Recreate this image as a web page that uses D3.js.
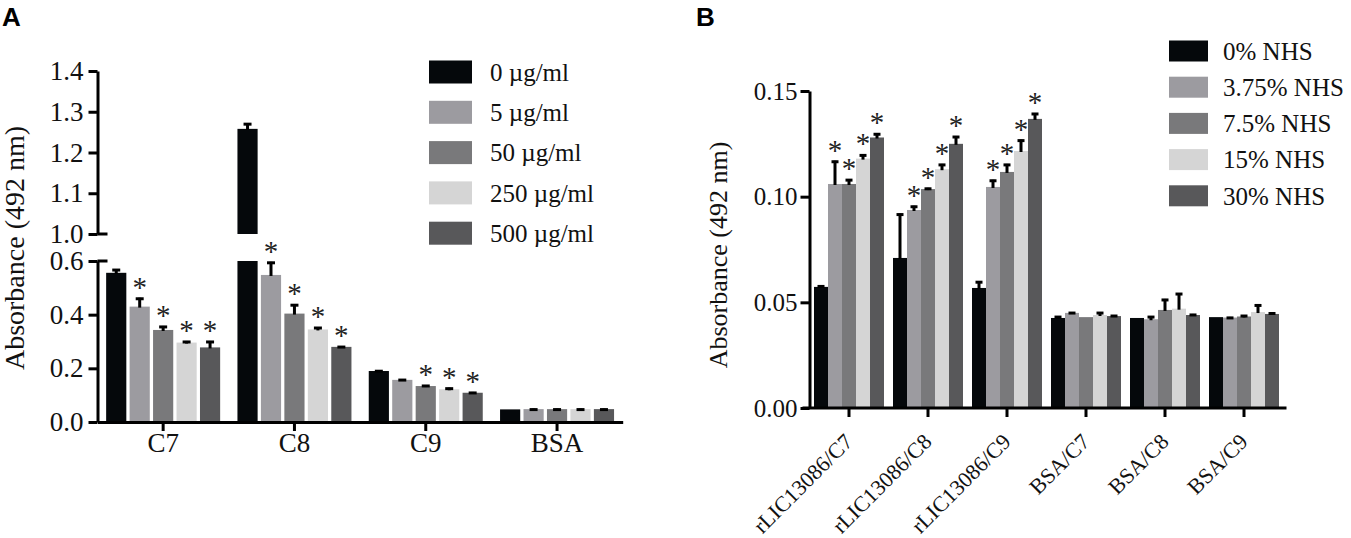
<!DOCTYPE html>
<html><head><meta charset="utf-8">
<script src="https://cdn.jsdelivr.net/npm/d3@7"></script>
<style>body{margin:0;background:#fff} svg{display:block}</style>
</head><body>
<svg id="chart" width="1351" height="538"></svg>
<script>
// ---------- Panel A data ----------
const categoriesA = ["C7", "C8", "C9", "BSA"];
const seriesA = ["0 \u00b5g/ml", "5 \u00b5g/ml", "50 \u00b5g/ml", "250 \u00b5g/ml", "500 \u00b5g/ml"];
const valuesA = [
  [0.556, 0.430, 0.343, 0.296, 0.278],
  [1.258, 0.548, 0.404, 0.345, 0.280],
  [0.190, 0.157, 0.134, 0.122, 0.109],
  [0.047, 0.048, 0.048, 0.048, 0.048]
];
const errorsA = [
  [0.014, 0.033, 0.015, 0.006, 0.024],
  [0.014, 0.049, 0.035, 0.009, 0.003],
  [0.003, 0.003, 0.004, 0.006, 0.003],
  [0.000, 0.002, 0.002, 0.002, 0.002]
];
const starsA = [
  [0, 1, 1, 1, 1],
  [0, 1, 1, 1, 1],
  [0, 0, 1, 1, 1],
  [0, 0, 0, 0, 0]
];
const ticksAUpper = [1.0, 1.1, 1.2, 1.3, 1.4];
const ticksALower = [0.0, 0.2, 0.4, 0.6];

// ---------- Panel B data ----------
const categoriesB = ["rLIC13086/C7", "rLIC13086/C8", "rLIC13086/C9", "BSA/C7", "BSA/C8", "BSA/C9"];
const seriesB = ["0% NHS", "3.75% NHS", "7.5% NHS", "15% NHS", "30% NHS"];
const valuesB = [
  [0.0573, 0.1060, 0.1060, 0.1180, 0.1280],
  [0.0710, 0.0937, 0.1036, 0.1130, 0.1250],
  [0.0568, 0.1046, 0.1117, 0.1216, 0.1368],
  [0.0426, 0.0450, 0.0430, 0.0440, 0.0435],
  [0.0426, 0.0420, 0.0464, 0.0470, 0.0440],
  [0.0430, 0.0428, 0.0433, 0.0454, 0.0445]
];
const errorsB = [
  [0.0007, 0.0110, 0.0023, 0.0020, 0.0020],
  [0.0210, 0.0020, 0.0006, 0.0025, 0.0037],
  [0.0032, 0.0034, 0.0038, 0.0054, 0.0028],
  [0.0009, 0.0004, 0.0000, 0.0014, 0.0005],
  [0.0000, 0.0015, 0.0052, 0.0074, 0.0005],
  [0.0000, 0.0003, 0.0007, 0.0036, 0.0007]
];
const starsB = [
  [0, 1, 1, 1, 1],
  [0, 1, 1, 1, 1],
  [0, 1, 1, 1, 1],
  [0, 0, 0, 0, 0],
  [0, 0, 0, 0, 0],
  [0, 0, 0, 0, 0]
];
const ticksB = [0, 0.05, 0.10, 0.15];

const colors = ["#05080b", "#9c9ba0", "#79797b", "#d5d5d5", "#58585a"];
const serif = "'Liberation Serif','Times New Roman',Times,serif";
const sans = "'Liberation Sans',Arial,Helvetica,sans-serif";

const svg = d3.select("#chart");

function styleAxis(g, fontSize) {
  g.attr("font-family", serif).attr("font-size", fontSize);
  g.select(".domain").attr("stroke", "#000").attr("stroke-width", 3);
  g.selectAll(".tick line").attr("stroke", "#000").attr("stroke-width", 3);
  g.selectAll(".tick text").attr("fill", "#111");
}

// ================= PANEL A =================
const axA = 97.5;
const xA = d3.scaleBand().domain(categoriesA).range([axA, axA + 4 * 131.3]);
const xAin = d3.scaleBand().domain(d3.range(seriesA.length)).range([-57, 57]).paddingInner(0.14);
const yUp = d3.scaleLinear().domain([1.0, 1.4]).range([234, 71]);
const yLo = d3.scaleLinear().domain([0, 0.6]).range([422, 261]);
const yA = v => (v > 0.6 ? yUp(v) : yLo(v));

const gA = svg.append("g");
categoriesA.forEach((c, i) => {
  valuesA[i].forEach((v, j) => {
    const x0 = xA(c) + xA.bandwidth() / 2 + xAin(j);
    const w = xAin.bandwidth();
    if (v > 0.6) {
      gA.append("rect").attr("x", x0).attr("width", w)
        .attr("y", yLo(0.6)).attr("height", yLo(0) - yLo(0.6)).attr("fill", colors[j]);
      gA.append("rect").attr("x", x0).attr("width", w)
        .attr("y", yUp(v)).attr("height", yUp(1.0) - yUp(v)).attr("fill", colors[j]);
    } else {
      gA.append("rect").attr("x", x0).attr("width", w)
        .attr("y", yLo(v)).attr("height", yLo(0) - yLo(v)).attr("fill", colors[j]);
    }
    const e = errorsA[i][j];
    const cx = x0 + w / 2;
    const yTop = yA(v + e);
    if (e > 0) {
      gA.append("line").attr("x1", cx).attr("x2", cx).attr("y1", yA(v) + 1).attr("y2", yTop)
        .attr("stroke", "#000").attr("stroke-width", 3);
      gA.append("line").attr("x1", cx - 4).attr("x2", cx + 4).attr("y1", yTop + 1).attr("y2", yTop + 1)
        .attr("stroke", "#000").attr("stroke-width", 3);
    }
    if (starsA[i][j]) {
      gA.append("text").attr("x", cx).attr("y", yTop - 1).attr("text-anchor", "middle")
        .attr("font-family", serif).attr("font-size", 29).attr("fill", "#222").text("*");
    }
  });
});

const gAU = svg.append("g").attr("transform", `translate(${axA},0)`)
  .call(d3.axisLeft(yUp).tickValues(ticksAUpper).tickFormat(d3.format(".1f")).tickSize(9).tickSizeOuter(0).tickPadding(5));
styleAxis(gAU, 27);
const gAL = svg.append("g").attr("transform", `translate(${axA},0)`)
  .call(d3.axisLeft(yLo).tickValues(ticksALower).tickFormat(d3.format(".1f")).tickSize(9).tickSizeOuter(0).tickPadding(5));
styleAxis(gAL, 27);
// break marks
[yUp(1.0), yLo(0.6)].forEach(yy => {
  svg.append("line").attr("x1", axA).attr("x2", axA + 10).attr("y1", yy).attr("y2", yy)
    .attr("stroke", "#000").attr("stroke-width", 3);
});
const gAX = svg.append("g").attr("transform", `translate(0,${yLo(0)})`)
  .call(d3.axisBottom(xA).tickSize(9).tickSizeOuter(0).tickPadding(2));
styleAxis(gAX, 27);

svg.append("text").attr("transform", `translate(24,248) rotate(-90)`).attr("text-anchor", "middle")
  .attr("font-family", serif).attr("font-size", 28).attr("fill", "#111").text("Absorbance (492 nm)");

// legend A
const legA = svg.append("g");
seriesA.forEach((s, j) => {
  const cy = 72 + j * 40.3;
  legA.append("rect").attr("x", 429).attr("y", cy - 11.5).attr("width", 43).attr("height", 23).attr("fill", colors[j]);
  legA.append("text").attr("x", 490).attr("y", cy).attr("dy", "0.35em")
    .attr("font-family", serif).attr("font-size", 25).attr("fill", "#111").text(s);
});

svg.append("text").attr("x", 2).attr("y", 26).attr("font-family", sans).attr("font-weight", "bold")
  .attr("font-size", 26).attr("fill", "#000").text("A");

// ================= PANEL B =================
const axB = 809.5;
const xB = d3.scaleBand().domain(categoriesB).range([axB, axB + 6 * 79]);
const xBin = d3.scaleBand().domain(d3.range(seriesB.length)).range([-35, 35]);
const yB = d3.scaleLinear().domain([0, 0.15]).range([408, 91]);

const gB = svg.append("g");
categoriesB.forEach((c, i) => {
  valuesB[i].forEach((v, j) => {
    const x0 = xB(c) + xB.bandwidth() / 2 + xBin(j);
    const w = xBin.bandwidth();
    gB.append("rect").attr("x", x0).attr("width", w)
      .attr("y", yB(v)).attr("height", yB(0) - yB(v)).attr("fill", colors[j]);
    const e = errorsB[i][j];
    const cx = x0 + w / 2;
    const yTop = yB(v + e);
    if (e > 0) {
      gB.append("line").attr("x1", cx).attr("x2", cx).attr("y1", yB(v) + 1).attr("y2", yTop)
        .attr("stroke", "#000").attr("stroke-width", 3);
      gB.append("line").attr("x1", cx - 3.5).attr("x2", cx + 3.5).attr("y1", yTop + 1).attr("y2", yTop + 1)
        .attr("stroke", "#000").attr("stroke-width", 3);
    }
    if (starsB[i][j]) {
      gB.append("text").attr("x", cx).attr("y", yTop - 1).attr("text-anchor", "middle")
        .attr("font-family", serif).attr("font-size", 29).attr("fill", "#222").text("*");
    }
  });
});

const gBY = svg.append("g").attr("transform", `translate(${axB},0)`)
  .call(d3.axisLeft(yB).tickValues(ticksB).tickFormat(d3.format(".2f")).tickSize(9).tickSizeOuter(0).tickPadding(3));
styleAxis(gBY, 25);
const gBX = svg.append("g").attr("transform", `translate(0,${yB(0)})`)
  .call(d3.axisBottom(xB).tickSize(9).tickSizeOuter(0));
styleAxis(gBX, 22);
gBX.select(".domain").attr("d", `M${axB - 7},0H${axB + 6 * 79 + 3}`);
gBX.selectAll(".tick text")
  .attr("x", 0).attr("y", 0).attr("dy", 0)
  .attr("transform", "translate(5,35) rotate(-45)")
  .style("text-anchor", "end");

svg.append("text").attr("transform", `translate(727,255) rotate(-90)`).attr("text-anchor", "middle")
  .attr("font-family", serif).attr("font-size", 26).attr("fill", "#111").text("Absorbance (492 nm)");

// legend B
const legB = svg.append("g");
seriesB.forEach((s, j) => {
  const cy = 51 + j * 36.2;
  legB.append("rect").attr("x", 1169).attr("y", cy - 10.5).attr("width", 39).attr("height", 21).attr("fill", colors[j]);
  legB.append("text").attr("x", 1223).attr("y", cy).attr("dy", "0.35em")
    .attr("font-family", serif).attr("font-size", 25).attr("fill", "#111").text(s);
});

svg.append("text").attr("x", 696).attr("y", 26).attr("font-family", sans).attr("font-weight", "bold")
  .attr("font-size", 26).attr("fill", "#000").text("B");
</script>
</body></html>
